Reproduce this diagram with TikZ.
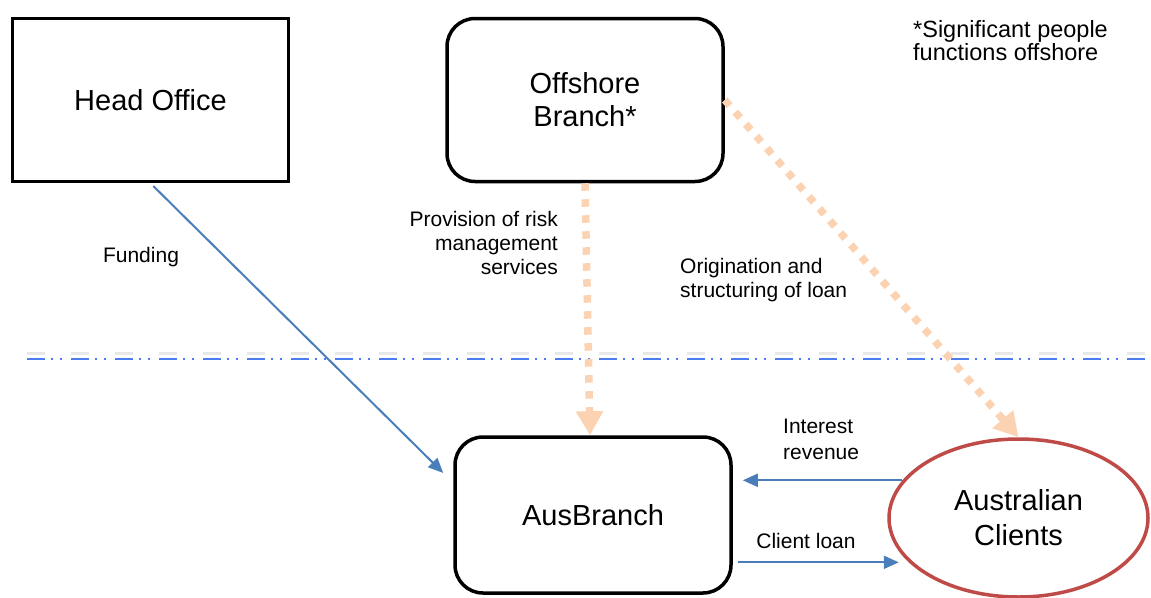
\documentclass[tikz,border=0pt]{standalone}
\usepackage{fontspec}
\setmainfont{Liberation Sans}
\usetikzlibrary{arrows.meta,calc,shapes.geometric}
\definecolor{flowblue}{HTML}{4A7EBB}
\definecolor{lineblue}{HTML}{4A7CF0}
\definecolor{peach}{HTML}{FBD3B2}
\definecolor{clientred}{HTML}{BE4B48}
\begin{document}
\begin{tikzpicture}[x=1pt,y=-1pt,
  entity/.style={draw=black, line width=3.5pt, minimum width=276pt, inner sep=0pt,
    font=\fontsize{29}{33}\selectfont, align=center},
  squarebox/.style={entity, rectangle},
  roundbox/.style={entity, rounded corners=28pt},
  clientoval/.style={ellipse, draw=clientred, line width=3.5pt, minimum width=259pt,
    minimum height=158pt, inner sep=0pt, font=\fontsize{29}{35}\selectfont, align=center},
  flowtext/.style={font=\fontsize{21}{24}\selectfont, inner sep=0pt},
  flow/.style={draw=flowblue, line width=2pt, -{Triangle[length=15pt,width=13pt]}},
  service/.style={draw=peach, line width=7.5pt, dash pattern=on 7.5pt off 8.5pt,
    -{Triangle[length=24pt,width=26pt]}},
  separator/.style={draw=lineblue, line width=2pt,
    dash pattern=on 18pt off 6pt on 2pt off 7pt on 2pt off 9pt},
  sepshadow/.style={draw=gray!18, line width=3pt, dash pattern=on 18pt off 26pt}]
\useasboundingbox (0,0) rectangle (1151,597);

% onshore / offshore boundary
\coordinate (sepL) at (27,359);
\coordinate (sepR) at (1151,359);
\draw[sepshadow] ([yshift=6pt]sepL) -- ([yshift=6pt]sepR);
\draw[separator] (sepL) -- (sepR);

% entities
\node[squarebox, minimum height=163pt] (head) at (150.5,100) {Head Office};
\node[roundbox, minimum height=163pt] (offshore) at (585,100) {Offshore\\Branch*};
\node[roundbox, minimum height=156pt] (aus) at (593,515) {AusBranch};
\node[clientoval] (clients) at (1018.5,518) {Australian\\Clients};

% note
\node[font=\fontsize{23.5}{23}\selectfont, inner sep=0pt, align=left, anchor=west]
  (note) at (913,41) {*Significant people\\functions offshore};

% flows
\draw[flow, shorten <=4pt] (head.south) -- ($(aus.west)+(-10,-42)$);
\draw[service] (offshore.south) -- ([xshift=-3pt]aus.north);
\draw[service] (offshore.east) -- (clients.north);
\draw[flow] (clients.162) -- ([xshift=10pt]aus.east |- clients.162);
\draw[flow] ([xshift=5pt]aus.east |- clients.202) -- ([xshift=-10pt]clients.202);

% flow labels
\node[flowtext] (fundlbl) at (141,257) {Funding};
\node[flowtext, align=right, anchor=east] (risklbl) at (558,243)
  {Provision of risk\\management\\services};
\node[flowtext, align=left, anchor=west] (origlbl) at (680,280)
  {Origination and\\structuring of loan};
\node[flowtext, align=left, anchor=west, font=\fontsize{21}{26}\selectfont] (intlbl)
  at (783,439) {Interest\\revenue};
\node[flowtext] (loanlbl) at (806,541) {Client loan};
\end{tikzpicture}
\end{document}
